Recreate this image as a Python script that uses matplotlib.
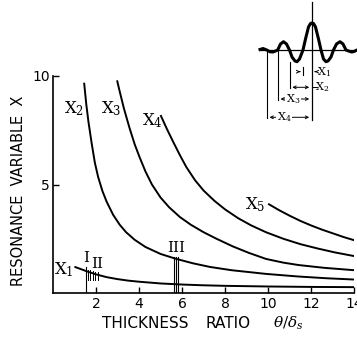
import matplotlib
matplotlib.use("Agg")
import matplotlib.pyplot as plt

plt.rcParams['font.family'] = 'DejaVu Sans'
plt.rcParams['mathtext.fontset'] = 'dejavuserif'

# resonance curves (thickness ratio, X)
x1_t = [1.0, 1.3, 1.6, 2.0, 2.5, 3.0, 3.5, 4.0, 5.0, 6.0, 7.0, 8.0, 10.0, 12.0, 14.0]
x1_v = [1.21, 1.1, 0.99, 0.86, 0.73, 0.64, 0.57, 0.52, 0.44, 0.39, 0.355, 0.33, 0.3, 0.28, 0.27]

x2_t = [1.45, 1.55, 1.65, 1.8, 1.95, 2.1, 2.3, 2.5, 2.8, 3.1, 3.4, 3.8, 4.3, 5.0, 5.7, 6.5,
        7.3, 8.3, 9.9, 11.4, 12.7, 14.0]
x2_v = [9.69, 8.7, 7.9, 6.9, 6.0, 5.35, 4.7, 4.2, 3.6, 3.15, 2.8, 2.45, 2.12, 1.8, 1.58, 1.37,
        1.2, 1.05, 0.88, 0.76, 0.68, 0.62]

x3_t = [2.98, 3.1, 3.3, 3.56, 3.8, 4.03, 4.3, 4.6, 5.0, 5.4, 5.9, 6.4, 7.0, 7.6, 8.35, 9.1,
        9.9, 10.7, 11.4, 12.6, 14.0]
x3_v = [9.8, 9.3, 8.5, 7.6, 6.85, 6.25, 5.6, 5.0, 4.4, 3.95, 3.5, 3.15, 2.8, 2.5, 2.15, 1.85,
        1.57, 1.4, 1.29, 1.16, 1.05]

x4_t = [5.0, 5.3, 5.57, 5.9, 6.2, 6.6, 7.0, 7.5, 8.0, 8.6, 9.2, 9.9, 10.7, 11.5, 12.3, 13.1, 14.0]
x4_v = [8.2, 7.55, 7.0, 6.35, 5.8, 5.2, 4.72, 4.25, 3.85, 3.45, 3.12, 2.8, 2.5, 2.25, 2.05, 1.87, 1.7]

x5_t = [10.0, 10.5, 11.0, 11.5, 12.0, 12.5, 13.0, 13.5, 14.0]
x5_v = [4.11, 3.82, 3.56, 3.32, 3.11, 2.92, 2.75, 2.58, 2.43]

curve_labels = ['X$_1$', 'X$_2$', 'X$_3$', 'X$_4$', 'X$_5$']
label_t = [0.52, 1.0, 2.73, 4.61, 9.42]
label_v = [1.06, 8.5, 8.49, 7.94, 4.05]

# experiment markers I, II, III
mark_names = ['I', 'II', 'III']
mark_t = [1.53, 2.04, 5.74]
mark_v = [1.6, 1.35, 2.06]
long_lines_t = [1.54, 5.63, 5.72, 5.82]
long_lines_top = [1.22, 1.66, 1.66, 1.66]
hash_t = [1.64, 1.72, 1.84, 1.95, 2.08]
hash_lo = [0.62, 0.62, 0.6, 0.6, 0.6]
hash_hi = [1.08, 1.05, 1.0, 0.98, 0.96]

x_ticks = [2, 4, 6, 8, 10, 12, 14]
y_ticks = [5, 10]

# x axis title pieces and their centres (figure pixels)
xtitle_words = ['THICKNESS', 'RATIO', '$\\theta/\\delta_s$']
xtitle_px = [145, 228, 288]

# inset wavelet sketch (offsets from the centre line, arbitrary units)
wave_x = [-52, -49, -45.3, -42, -39, -36.5, -34.3, -31.5, -28.5, -25.5, -22.5, -20, -17, -15, -12.5,
          -9, -6.5, -3.5, -1.5, 0, 1.5, 3.5, 6.5, 9, 11.5, 14, 16, 19, 21.5, 24.5, 28, 31, 34,
          36.5, 39.5, 42, 45]
wave_y = [0.5, 1.5, 0, -1.8, -2, -1, 0, 6, 8.3, 6, 0, -7, -11, -11.7, -9,
          0, 11, 23, 26.5, 27, 26.5, 23, 11, 0, -9, -11.7, -11, -7, 0, 6, 8.3, 6, 0,
          -1, -2, -1.5, 0]
dim_names = ['X$_1$', 'X$_2$', 'X$_3$', 'X$_4$']
dim_x = [-9, -22.5, -34.3, -45.3]
dim_level = [-21.7, -37.3, -49, -67.3]
dim_label_x = [12, 10.5, -19, -28]

fig = plt.figure(figsize=(3.57, 3.37), dpi=100)
ax = fig.add_axes([52.9 / 357, 44 / 337, 301.4 / 357, 217 / 337])

for t, v in [(x1_t, x1_v), (x2_t, x2_v), (x3_t, x3_v), (x4_t, x4_v), (x5_t, x5_v)]:
    ax.plot(t, v, color='black', lw=1.4, solid_capstyle='butt', solid_joinstyle='round')

for name, t, v in zip(curve_labels, label_t, label_v):
    ax.text(t, v, name, fontsize=12, family='DejaVu Serif', ha='center', va='center')

for name, t, v in zip(mark_names, mark_t, mark_v):
    ax.text(t, v, name, fontsize=11, family='DejaVu Serif', ha='center', va='center')
for t, top in zip(long_lines_t, long_lines_top):
    ax.plot([t, t], [0, top], color='black', lw=0.8)
for t, lo, hi in zip(hash_t, hash_lo, hash_hi):
    ax.plot([t, t], [lo, hi], color='black', lw=0.7)

ax.set_xlim(0, 14)
ax.set_ylim(0, 10)
ax.spines['top'].set_visible(False)
ax.spines['right'].set_visible(False)
for s in ['left', 'bottom']:
    ax.spines[s].set_linewidth(1.2)
ax.set_xticks(x_ticks)
ax.set_yticks(y_ticks)
ax.tick_params(direction='in', length=4.5, width=1, labelsize=10, pad=3)
ax.tick_params(axis='y', pad=2)

for word, px in zip(xtitle_words, xtitle_px):
    fig.text(px / 357, (337 - 323) / 337, word, fontsize=11, ha='center', va='center')
fig.text(19 / 357, (337 - 191) / 337, 'RESONANCE  VARIABLE  X',
         fontsize=10.5, ha='center', va='center', rotation=90)

# inset sketch
ins = fig.add_axes([258 / 357, (337 - 125) / 337, 99 / 357, 125 / 337])
ins.set_xlim(-54, 45)
ins.set_ylim(-75, 50)
ins.axis('off')
ins.plot([-52, 45], [0, 0], color='black', lw=0.9)
ins.plot([0, 0], [48, -70], color='black', lw=0.9)
ins.plot(wave_x, wave_y, color='black', lw=2.2, solid_joinstyle='round')

# X1: small gap, arrows from outside
ins.plot([dim_x[0], dim_x[0]], [-17, -25], color='black', lw=0.8)
ins.annotate('', xy=(dim_x[0], dim_level[0]), xytext=(dim_x[0] - 6, dim_level[0]),
             arrowprops=dict(arrowstyle='->', lw=0.7, mutation_scale=5))
ins.annotate('', xy=(0, dim_level[0]), xytext=(6, dim_level[0]),
             arrowprops=dict(arrowstyle='->', lw=0.7, mutation_scale=5))
ins.text(dim_label_x[0], dim_level[0], dim_names[0], fontsize=8, family='DejaVu Serif',
         ha='center', va='center')

# X2: vertical from the lobe, line to centre, label on the right
ins.plot([dim_x[1], dim_x[1]], [-11.7, dim_level[1] - 1], color='black', lw=0.8)
ins.annotate('', xy=(dim_x[1], dim_level[1]), xytext=(0, dim_level[1]),
             arrowprops=dict(arrowstyle='<->', lw=0.7, mutation_scale=5))
ins.plot([0, 5], [dim_level[1], dim_level[1]], color='black', lw=0.7)
ins.text(dim_label_x[1], dim_level[1], dim_names[1], fontsize=8, family='DejaVu Serif',
         ha='center', va='center')

# X3, X4: label sits on the dimension line
for k in [2, 3]:
    ins.plot([dim_x[k], dim_x[k]], [0, dim_level[k] - 1], color='black', lw=0.8)
    ins.annotate('', xy=(dim_x[k], dim_level[k]), xytext=(0, dim_level[k]),
                 arrowprops=dict(arrowstyle='<->', lw=0.7, mutation_scale=5))
    ins.text(dim_label_x[k], dim_level[k], dim_names[k], fontsize=8, family='DejaVu Serif',
             ha='center', va='center', bbox=dict(fc='white', ec='none', pad=0.3))

fig.savefig('out.png', dpi=100)
